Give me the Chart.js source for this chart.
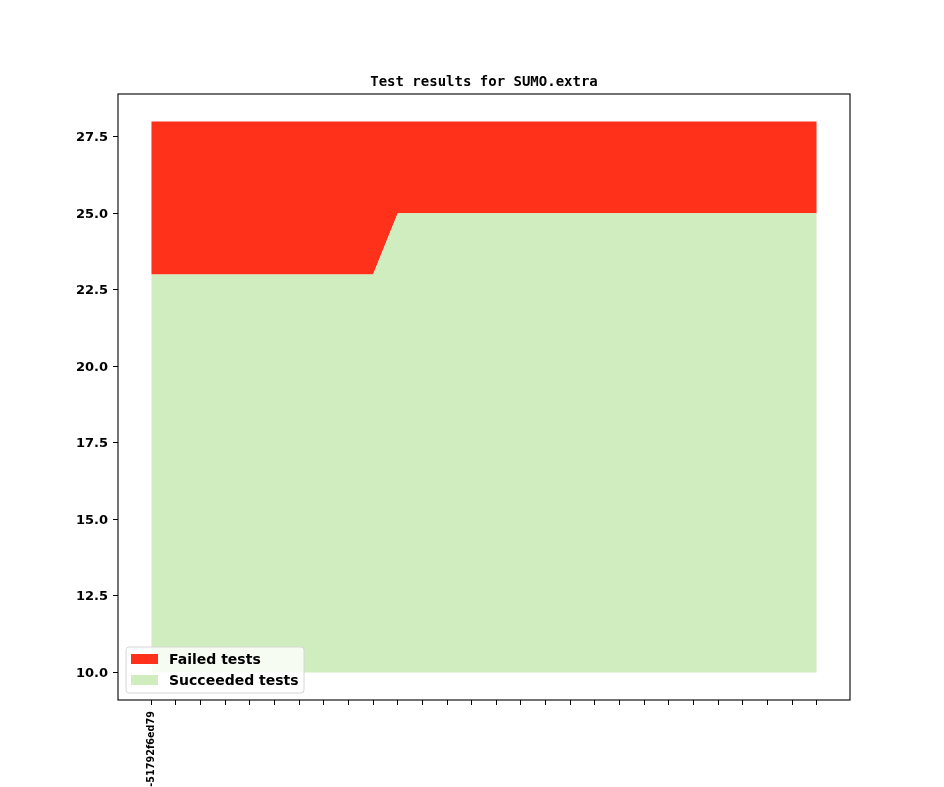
<!DOCTYPE html>
<html>
<head>
<meta charset="utf-8">
<script src="https://cdn.jsdelivr.net/npm/chart.js@4/dist/chart.umd.min.js"></script>
<style>
html,body{margin:0;padding:0;background:#fff;}
#wrap{width:944px;height:787px;}
</style>
</head>
<body>
<div id="wrap"><canvas id="c" width="944" height="787"></canvas></div>
<script>
const chartTitle = "Test results for SUMO.extra";
const commits = ["-51792f6ed79","","","","","","","","","","","","","","","","","","","","","","","","","","",""];
const succeeded = [23,23,23,23,23,23,23,23,23,23,25,25,25,25,25,25,25,25,25,25,25,25,25,25,25,25,25,25];
const failed    = [5,5,5,5,5,5,5,5,5,5,3,3,3,3,3,3,3,3,3,3,3,3,3,3,3,3,3,3];
const yTicks = [10.0,12.5,15.0,17.5,20.0,22.5,25.0,27.5];
const seriesNames = ["Failed tests","Succeeded tests"];
const colors = {failed:"rgb(255,49,26)", succeeded:"rgb(207,237,190)"};

const baseline = 10;
const totals = succeeded.map((s,i)=>s+failed[i]);
const xIdx = commits.map((_,i)=>i);
const allVals = succeeded.concat(totals, [baseline]);
const yLo = Math.min(...allVals), yHi = Math.max(...allVals);
const yPad = (yHi-yLo)*0.05;
const xPad = (commits.length-1)*0.05;

function zeroPad(ax){ax.paddingLeft=0;ax.paddingRight=0;ax.paddingTop=0;ax.paddingBottom=0;}

const framePlugin = {
  id:'frame',
  afterDraw(chart){
    const {ctx, chartArea:a} = chart;
    ctx.save();
    ctx.strokeStyle='#000';
    ctx.lineWidth=1.1;
    ctx.strokeRect(a.left, a.top, a.right-a.left, a.bottom-a.top);
    // title
    ctx.fillStyle='#000';
    ctx.font='bold 14px "DejaVu Sans Mono", monospace';
    ctx.textAlign='center';
    ctx.textBaseline='alphabetic';
    ctx.fillText(chartTitle, (a.left+a.right)/2, a.top-8);
    // legend
    const lx=a.left+8, ly=a.bottom-53, lw=178, lh=46;
    ctx.beginPath();
    const r=3;
    ctx.moveTo(lx+r,ly);ctx.lineTo(lx+lw-r,ly);ctx.quadraticCurveTo(lx+lw,ly,lx+lw,ly+r);
    ctx.lineTo(lx+lw,ly+lh-r);ctx.quadraticCurveTo(lx+lw,ly+lh,lx+lw-r,ly+lh);
    ctx.lineTo(lx+r,ly+lh);ctx.quadraticCurveTo(lx,ly+lh,lx,ly+lh-r);
    ctx.lineTo(lx,ly+r);ctx.quadraticCurveTo(lx,ly,lx+r,ly);ctx.closePath();
    ctx.fillStyle='rgba(255,255,255,0.8)';
    ctx.fill();
    ctx.strokeStyle='#d6d6d6';
    ctx.lineWidth=1;
    ctx.stroke();
    const items=[[seriesNames[0],colors.failed],[seriesNames[1],colors.succeeded]];
    ctx.font='bold 14px "DejaVu Sans", sans-serif';
    ctx.textAlign='left';
    ctx.textBaseline='middle';
    items.forEach((it,i)=>{
      const cy = ly+12+i*21;
      ctx.fillStyle=it[1];
      ctx.fillRect(lx+5, cy-5, 27, 10);
      ctx.fillStyle='#000';
      ctx.fillText(it[0], lx+43, cy+1);
    });
    ctx.restore();
  }
};

new Chart(document.getElementById('c'), {
  type:'line',
  data:{
    datasets:[
      {label:seriesNames[1], data:xIdx.map(i=>({x:i,y:succeeded[i]})), backgroundColor:colors.succeeded, borderColor:colors.succeeded, borderWidth:0, pointRadius:0, fill:{value:baseline}, tension:0},
      {label:seriesNames[0], data:xIdx.map(i=>({x:i,y:totals[i]})), backgroundColor:colors.failed, borderColor:colors.failed, borderWidth:0, pointRadius:0, fill:'-1', tension:0}
    ]
  },
  options:{
    responsive:false,
    animation:false,
    devicePixelRatio:1,
    layout:{padding:{left:0,top:94,right:94,bottom:0}},
    plugins:{legend:{display:false}, title:{display:false}, tooltip:{enabled:false}},
    scales:{
      x:{
        type:'linear',
        min:-xPad, max:commits.length-1+xPad,
        afterBuildTicks:(ax)=>{ax.ticks = xIdx.map(i=>({value:i}));},
        afterFit:(ax)=>{ax.height=87; zeroPad(ax);},
        grid:{drawOnChartArea:false, drawTicks:true, tickLength:5, color:'#000', lineWidth:1},
        border:{display:false},
        ticks:{autoSkip:false, minRotation:90, maxRotation:90, padding:6, color:'#000',
          font:{family:'"DejaVu Sans", sans-serif', weight:'bold', size:9.7},
          callback:(v)=>commits[v] ?? ''}
      },
      y:{
        type:'linear',
        min:yLo-yPad, max:yHi+yPad,
        afterBuildTicks:(ax)=>{ax.ticks = yTicks.map(v=>({value:v}));},
        afterFit:(ax)=>{ax.width=118; zeroPad(ax);},
        grid:{drawOnChartArea:false, drawTicks:true, tickLength:5, color:'#000', lineWidth:1},
        border:{display:false},
        ticks:{padding:5, labelOffset:1, color:'#000',
          font:{family:'"DejaVu Sans", sans-serif', weight:'bold', size:13},
          callback:(v)=>Number(v).toFixed(1)}
      }
    }
  },
  plugins:[framePlugin]
});
</script>
</body>
</html>
